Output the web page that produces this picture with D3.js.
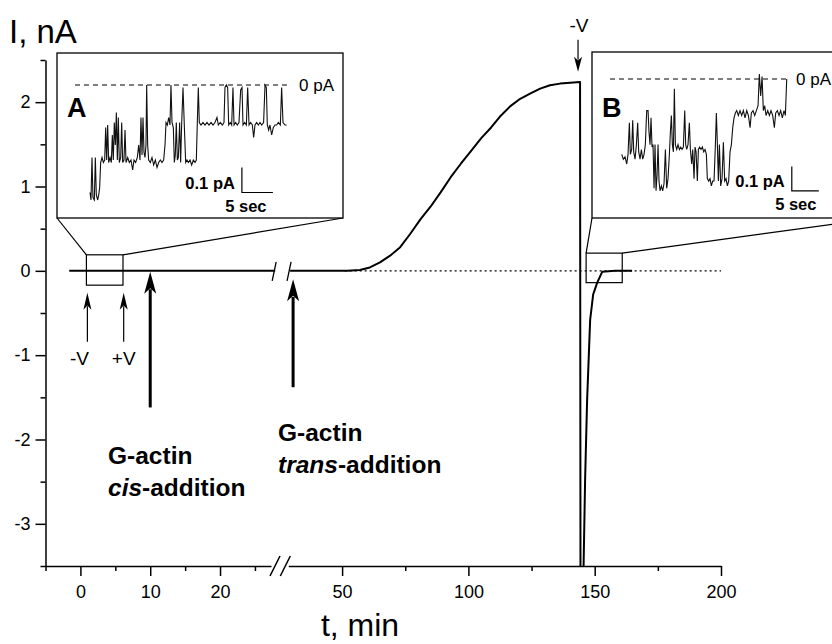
<!DOCTYPE html>
<html>
<head>
<meta charset="utf-8">
<script src="https://d3js.org/d3.v7.min.js"></script>
<style>
  body { margin: 0; background: #fff; }
  text { font-family: Arial, "Liberation Sans", sans-serif; fill: #000; }
</style>
</head>
<body>
<script>
// main record: t in min, I in nA
const traceBefore = [[-1.6, 0], [27.9, 0]]
const traceAfter = [[29.4, 0], [45, 0], [52, 0], [57, 0.01], [61, 0.04], [65, 0.1], [69, 0.18], [73, 0.28],
  [77, 0.44], [81, 0.61], [85, 0.76], [89, 0.93], [93, 1.11], [97, 1.27], [101, 1.42], [105, 1.57],
  [109, 1.7], [112.5, 1.83], [116.5, 1.95], [120.5, 2.04], [124.4, 2.1], [128.4, 2.16], [132.3, 2.2],
  [136.3, 2.22], [140.3, 2.23], [144.2, 2.24], [144.4, -4.5], [145.6, -3.5], [146.2, -2.48], [147, -1.53],
  [148.2, -0.58], [149.4, -0.28], [151, -0.14], [153, -0.01], [158, 0], [164.8, 0]]
const zeroRef = [[51, 0], [200, 0]]

// axis ticks
const xMajor1 = [0, 10, 20], xMinor1 = [-5, 5, 15, 25]
const xMajor2 = [50, 100, 150, 200], xMinor2 = [75, 125, 175]
const yMajor = [-3, -2, -1, 0, 1, 2]
const yMinor = [-3.5, -2.5, -1.5, -0.5, 0.5, 1.5, 2.5]

// single channel insets: [sec, pA]
const traceA = [[0, -0.43], [0.16, -0.46], [0.32, -0.29], [0.48, -0.45], [0.7, -0.46], [0.86, -0.29], [1.02, -0.44],
  [1.24, -0.46], [1.4, -0.44], [1.56, -0.41], [1.72, -0.31], [1.94, -0.29], [2.15, -0.31], [2.37, -0.3],
  [2.53, -0.17], [2.69, -0.3], [2.85, -0.16], [3.01, -0.31], [3.23, -0.29], [3.44, -0.31], [3.6, -0.2],
  [3.76, -0.3], [3.92, -0.15], [4.09, -0.24], [4.25, -0.11], [4.41, -0.3], [4.57, -0.13], [4.73, -0.31],
  [4.95, -0.29], [5.11, -0.15], [5.27, -0.31], [5.48, -0.3], [5.65, -0.18], [5.81, -0.31], [6.08, -0.29],
  [6.34, -0.31], [6.61, -0.3], [6.88, -0.34], [7.1, -0.3], [7.36, -0.31], [7.63, -0.29], [7.85, -0.24],
  [8.06, -0.3], [8.22, -0.13], [8.39, -0.28], [8.55, -0.13], [8.71, -0.27], [8.87, -0.29], [9.03, -0.24],
  [9.14, 0], [9.3, -0.24], [9.46, -0.3], [9.73, -0.31], [10, -0.29], [10.27, -0.32], [10.54, -0.3],
  [10.81, -0.33], [11.08, -0.31], [11.34, -0.3], [11.61, -0.31], [11.88, -0.3], [12.1, -0.24], [12.26, -0.15],
  [12.47, -0.16], [12.69, -0.13], [12.9, -0.16], [13.06, 0], [13.23, -0.15], [13.44, -0.17], [13.6, -0.31],
  [13.76, -0.28], [13.92, -0.15], [14.09, -0.3], [14.25, -0.29], [14.46, -0.15], [14.62, -0.31], [14.78, -0.16],
  [15, -0.01], [15.21, -0.16], [15.43, -0.31], [15.64, -0.3], [15.86, -0.31], [16.13, -0.3], [16.4, -0.32],
  [16.67, -0.3], [16.94, -0.31], [17.15, -0.3], [17.31, -0.15], [17.47, -0.01], [17.63, -0.15], [17.9, -0.16],
  [18.22, -0.15], [18.55, -0.16], [18.87, -0.15], [19.19, -0.16], [19.52, -0.15], [19.84, -0.16], [20.16, -0.15],
  [20.48, -0.13], [20.7, -0.16], [21.02, -0.15], [21.34, -0.16], [21.61, -0.15], [21.77, -0.01], [21.99, 0],
  [22.2, -0.01], [22.37, -0.16], [22.63, -0.15], [22.85, -0.16], [23.06, -0.01], [23.23, -0.16], [23.49, -0.15],
  [23.76, -0.16], [24.03, -0.15], [24.3, -0.02], [24.52, -0.01], [24.68, -0.16], [24.95, -0.15], [25.22, -0.16],
  [25.43, -0.01], [25.65, -0.16], [25.91, -0.15], [26.18, -0.16], [26.4, -0.21], [26.61, -0.16], [26.88, -0.15],
  [27.15, -0.16], [27.42, -0.15], [27.69, -0.16], [28, -0.15], [28.23, 0], [28.44, -0.01], [28.6, -0.16],
  [28.82, -0.18], [29.03, -0.16], [29.3, -0.2], [29.57, -0.17], [29.84, -0.16], [30.11, -0.16], [30.38, -0.15],
  [30.7, -0.16], [30.91, -0.01], [31.13, -0.15], [31.45, -0.16], [31.72, -0.16]]

const traceB = [[0, -0.31], [0.31, -0.33], [0.62, -0.32], [0.93, -0.35], [1.17, -0.31], [1.42, -0.18], [1.6, -0.31],
  [1.85, -0.29], [2.04, -0.17], [2.22, -0.3], [2.47, -0.33], [2.72, -0.27], [2.96, -0.18], [3.15, -0.3],
  [3.4, -0.33], [3.64, -0.29], [3.89, -0.33], [4.14, -0.31], [4.38, -0.27], [4.63, -0.13], [4.88, -0.13],
  [5.06, -0.22], [5.25, -0.27], [5.43, -0.16], [5.62, -0.28], [5.8, -0.27], [5.99, -0.45], [6.17, -0.27],
  [6.36, -0.46], [6.54, -0.4], [6.73, -0.27], [6.91, -0.42], [7.1, -0.46], [7.35, -0.44], [7.59, -0.46],
  [7.84, -0.43], [8.09, -0.29], [8.33, -0.45], [8.58, -0.41], [8.83, -0.31], [9.01, -0.22], [9.2, -0.15],
  [9.38, -0.27], [9.57, -0.3], [9.75, -0.04], [9.94, -0.27], [10.19, -0.29], [10.43, -0.27], [10.68, -0.29],
  [10.93, -0.28], [11.17, -0.29], [11.42, -0.28], [11.67, -0.13], [11.85, -0.27], [12.04, -0.29], [12.28, -0.27],
  [12.53, -0.18], [12.72, -0.29], [12.96, -0.35], [13.15, -0.29], [13.4, -0.41], [13.58, -0.28], [13.77, -0.3],
  [14.01, -0.42], [14.2, -0.29], [14.44, -0.28], [14.69, -0.29], [14.94, -0.28], [15.19, -0.3], [15.43, -0.29],
  [15.68, -0.31], [15.86, -0.41], [16.11, -0.42], [16.36, -0.41], [16.6, -0.44], [16.85, -0.42], [17.1, -0.42],
  [17.35, -0.27], [17.53, -0.14], [17.72, -0.27], [17.9, -0.42], [18.09, -0.27], [18.33, -0.44], [18.58, -0.41],
  [18.83, -0.26], [19.07, -0.42], [19.32, -0.41], [19.57, -0.44], [19.81, -0.42], [20.06, -0.3], [20.31, -0.27],
  [20.56, -0.2], [20.8, -0.16], [21.05, -0.14], [21.3, -0.13], [21.6, -0.15], [21.91, -0.13], [22.22, -0.15],
  [22.53, -0.13], [22.84, -0.16], [23.15, -0.13], [23.46, -0.15], [23.77, -0.2], [24.01, -0.14], [24.32, -0.13],
  [24.63, -0.15], [24.94, -0.13], [25.25, -0.11], [25.49, 0.02], [25.74, -0.07], [25.99, 0.01], [26.23, -0.13],
  [26.48, -0.11], [26.73, -0.15], [27.04, -0.13], [27.35, -0.15], [27.65, -0.13], [27.96, -0.15], [28.27, -0.2],
  [28.52, -0.14], [28.83, -0.13], [29.14, -0.15], [29.44, -0.13], [29.75, -0.16], [30.06, -0.13], [30.31, -0.15],
  [30.56, 0]]

// annotation arrows (t in min, I in nA)
const vArrows = [{t: 1, tip: -0.26, tail: -0.84, label: '-V', dx: -8}, {t: 6.2, tip: -0.26, tail: -0.84, label: '+V', dx: 0}]
const actinArrows = [{t: 10, tip: -0.01, tail: -1.62}, {t: 30.6, tip: -0.1, tail: -1.38}]
const topArrow = {t: 143.4, tip: 2.36, tail: 2.74, label: '-V'}

const width = 832, height = 644
const svg = d3.select('body').append('svg').attr('width', width).attr('height', height)

const y = d3.scaleLinear().domain([-3.5, 2.5]).range([566, 60])
const x1 = d3.scaleLinear().domain([-5, 27.3]).range([45.5, 271])
const x2 = d3.scaleLinear().domain([28.7, 200]).range([288.3, 721])
const xt = t => t < 28.3 ? x1(t) : x2(t)

// axes
function styleAxis(g) {
  g.attr('font-family', null).attr('font-size', null)
  g.selectAll('.domain, .tick line').attr('stroke', '#000').attr('stroke-width', 1.5)
  g.selectAll('.tick text').style('font-size', '18px')
}
function addAxis(makeAxis, major, minor, transform, pad) {
  svg.append('g').attr('transform', transform)
    .call(makeAxis().tickValues(minor).tickSize(5).tickFormat(''))
    .call(g => g.select('.domain').remove()).call(styleAxis)
  svg.append('g').attr('transform', transform)
    .call(makeAxis().tickValues(major).tickSize(10).tickPadding(pad).tickSizeOuter(0).tickFormat(d => String(d)))
    .call(styleAxis)
}
addAxis(() => d3.axisBottom(x1), xMajor1, xMinor1, `translate(0,${y(-3.5)})`, 9)
addAxis(() => d3.axisBottom(x2), xMajor2, xMinor2, `translate(0,${y(-3.5)})`, 9)
addAxis(() => d3.axisLeft(y), yMajor, yMinor, `translate(${x1(-5)},0)`, 5)

// axis break marks
const axY = y(-3.5)
;[x1.range()[1] + 4, x2.range()[0] - 3].forEach(cx => {
  svg.append('line').attr('x1', cx - 5).attr('y1', axY + 10).attr('x2', cx + 5).attr('y2', axY - 10)
    .attr('stroke', '#000').attr('stroke-width', 1.5)
})

svg.append('text').attr('x', 9).attr('y', 43).style('font-size', '33px').text('I, nA')
svg.append('text').attr('x', 360).attr('y', 636).attr('text-anchor', 'middle').style('font-size', '32px').text('t, min')

// main trace
svg.append('clipPath').attr('id', 'plotclip').append('rect')
  .attr('x', 45).attr('y', 0).attr('width', width).attr('height', y(-3.5))
const line = d3.line().x(d => xt(d[0])).y(d => y(d[1]))
const plot = svg.append('g').attr('clip-path', 'url(#plotclip)')
plot.append('path').attr('d', line(zeroRef)).attr('fill', 'none').attr('stroke', '#000')
  .attr('stroke-width', 1.3).attr('stroke-dasharray', '2,3')
;[traceBefore, traceAfter].forEach(tr => {
  plot.append('path').attr('d', line(tr)).attr('fill', 'none').attr('stroke', '#000')
    .attr('stroke-width', 2).attr('stroke-linejoin', 'round')
})
// break marks on trace
;[xt(traceBefore[1][0]) - 1, xt(traceAfter[0][0]) - 1].forEach(cx => {
  svg.append('line').attr('x1', cx - 2).attr('y1', y(0) + 10).attr('x2', cx + 2).attr('y2', y(0) - 9)
    .attr('stroke', '#000').attr('stroke-width', 1.3)
})

// arrows
function arrow(x, yTail, yTip, shaft, headLen, headW) {
  const dir = yTip > yTail ? -1 : 1
  svg.append('line').attr('x1', x).attr('x2', x).attr('y1', yTail).attr('y2', yTip + dir * headLen * 0.8)
    .attr('stroke', '#000').attr('stroke-width', shaft)
  svg.append('path')
    .attr('d', `M${x},${yTip} L${x - headW / 2},${yTip + dir * headLen} L${x},${yTip + dir * headLen * 0.75} L${x + headW / 2},${yTip + dir * headLen} Z`)
    .attr('fill', '#000')
}
vArrows.forEach(a => {
  arrow(xt(a.t), y(a.tail), y(a.tip), 1.2, 17, 8)
  svg.append('text').attr('x', xt(a.t) + a.dx).attr('y', y(a.tail) + 23).attr('text-anchor', 'middle')
    .style('font-size', '19px').text(a.label)
})
actinArrows.forEach(a => arrow(xt(a.t), y(a.tail), y(a.tip), 3, 22, 12))
arrow(xt(topArrow.t), y(topArrow.tail), y(topArrow.tip), 1.2, 15, 8)
svg.append('text').attr('x', xt(topArrow.t) + 1).attr('y', 32).attr('text-anchor', 'middle')
  .style('font-size', '19px').text(topArrow.label)

function twoLine(xp, yp, italic) {
  const t = svg.append('text').attr('x', xp).attr('y', yp).style('font-size', '24.5px').style('font-weight', 'bold')
  t.append('tspan').attr('x', xp).text('G-actin')
  t.append('tspan').attr('x', xp).attr('dy', 32).style('font-style', 'italic').text(italic)
  t.append('tspan').text('-addition')
}
twoLine(108, 464, 'cis')
twoLine(278, 441, 'trans')

// insets
const insets = [
  {name: 'A', data: traceA, frame: {x: 57, y: 53, w: 286, h: 165}, x0: 90, zeroY: 85, pxSec: 6.2, pxPA: 250,
    dash: [75, 290], bar: [24.5, -0.43], box: {t0: 0.86, t1: 6.1, top: 0.19, bot: -0.17}},
  {name: 'B', data: traceB, frame: {x: 592, y: 52, w: 286, h: 166}, x0: 621.7, zeroY: 79, pxSec: 5.4, pxPA: 243,
    dash: [610, 787], bar: [31.5, -0.46], box: {t0: 146.6, t1: 160.9, top: 0.21, bot: -0.14}}
]
insets.forEach(ins => {
  const sx = d3.scaleLinear().domain([0, 1]).range([ins.x0, ins.x0 + ins.pxSec])
  const sy = d3.scaleLinear().domain([0, -0.1]).range([ins.zeroY, ins.zeroY + ins.pxPA * 0.1])
  const f = ins.frame, b = ins.box
  const bx0 = xt(b.t0), bx1 = xt(b.t1), by0 = y(b.top), by1 = y(b.bot)

  svg.append('rect').attr('x', bx0).attr('y', by0).attr('width', bx1 - bx0).attr('height', by1 - by0)
    .attr('fill', 'none').attr('stroke', '#000').attr('stroke-width', 1.2)
  svg.append('line').attr('x1', bx0).attr('y1', by0).attr('x2', f.x).attr('y2', f.y + f.h).attr('stroke', '#000').attr('stroke-width', 1.2)
  svg.append('line').attr('x1', bx1).attr('y1', by0).attr('x2', f.x + f.w).attr('y2', f.y + f.h).attr('stroke', '#000').attr('stroke-width', 1.2)
  svg.append('rect').attr('x', f.x).attr('y', f.y).attr('width', f.w).attr('height', f.h)
    .attr('fill', '#fff').attr('stroke', '#000').attr('stroke-width', 1.3)

  svg.append('line').attr('x1', ins.dash[0]).attr('x2', ins.dash[1]).attr('y1', sy(0)).attr('y2', sy(0))
    .attr('stroke', '#000').attr('stroke-width', 1).attr('stroke-dasharray', '5,4')
  svg.append('text').attr('x', ins.dash[1] + 9).attr('y', sy(0) + 6).style('font-size', '17px').text('0 pA')
  svg.append('text').attr('x', f.x + 10).attr('y', 117).style('font-size', '27px').style('font-weight', 'bold').text(ins.name)

  svg.append('path').attr('d', d3.line().x(d => sx(d[0])).y(d => sy(d[1]))(ins.data))
    .attr('fill', 'none').attr('stroke', '#111').attr('stroke-width', 1.1)

  const [bs, bp] = ins.bar
  const cx = sx(bs), cy = sy(bp)
  svg.append('path').attr('d', `M${cx},${sy(bp + 0.1)} V${cy} H${sx(bs + 5)}`)
    .attr('fill', 'none').attr('stroke', '#000').attr('stroke-width', 1.2)
  svg.append('text').attr('x', cx - 7).attr('y', cy - 4).attr('text-anchor', 'end')
    .style('font-size', '16.5px').style('font-weight', 'bold').text('0.1 pA')
  svg.append('text').attr('x', cx + 4).attr('y', cy + 19).attr('text-anchor', 'middle')
    .style('font-size', '16.5px').style('font-weight', 'bold').text('5 sec')
})
</script>
</body>
</html>
